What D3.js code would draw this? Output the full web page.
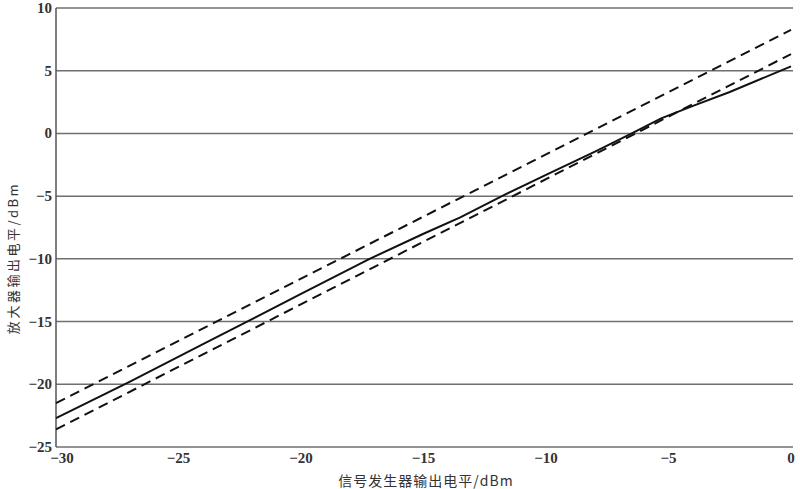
<!DOCTYPE html>
<html><head><meta charset="utf-8">
<script src="https://cdn.jsdelivr.net/npm/d3@7"></script>
<style>body{margin:0;background:#fff}</style>
</head><body><svg id="c" width="800" height="489"></svg>
<script>
const xTicks = [-30, -25, -20, -15, -10, -5, 0];
const yTicks = [-25, -20, -15, -10, -5, 0, 5, 10];
const upperX = [-30, 0];
const upperY = [-21.5, 8.25];
const lowerX = [-30, 0];
const lowerY = [-23.6, 6.33];
const measX = [-30, -27, -24, -22.2, -20, -17.2, -15, -13.5, -11.8, -10, -8, -6.5, -5.3, -4, -2.5, 0];
const measY = [-22.7, -19.8, -16.8, -15, -12.8, -10, -8.0, -6.7, -5, -3.3, -1.45, 0, 1.2, 2.2, 3.3, 5.35];
const xTitle = "信号发生器输出电平/dBm";
const yTitle = "放大器输出电平/dBm";

const svg = d3.select("#c");
const x = d3.scaleLinear().domain([-30, 0]).range([56, 791]);
const y = d3.scaleLinear().domain([-25, 10]).range([447, 8]);
const fmt = d => d < 0 ? "\u2212" + Math.abs(d) : String(d);
const tickFont = "'Liberation Serif','DejaVu Serif',serif";

svg.append("g").selectAll("line").data(yTicks).join("line")
  .attr("x1", x(-30)).attr("x2", 793)
  .attr("y1", d => y(d)).attr("y2", d => y(d))
  .attr("stroke", "#6f6f6f").attr("stroke-width", 1.5);
svg.append("line").attr("x1", x(-30)).attr("x2", x(-30)).attr("y1", y(10)).attr("y2", y(-25))
  .attr("stroke", "#555").attr("stroke-width", 1.5);

svg.append("g").selectAll("text").data(yTicks).join("text")
  .attr("x", 52).attr("y", d => y(d) + 5)
  .attr("text-anchor", "end").attr("font-family", tickFont).attr("font-weight", "bold")
  .attr("font-size", 15).attr("fill", "#333").text(fmt);
svg.append("g").selectAll("text").data(xTicks).join("text")
  .attr("x", d => x(d) + (d === -30 ? 6 : 0)).attr("y", 463)
  .attr("text-anchor", "middle").attr("font-family", tickFont).attr("font-weight", "bold")
  .attr("font-size", 15).attr("fill", "#333").text(fmt);

const line = d3.line().x(d => x(d[0])).y(d => y(d[1]));
const pts = (a, b) => a.map((v, i) => [v, b[i]]);

svg.append("path").attr("d", line(pts(upperX, upperY))).attr("fill", "none")
  .attr("stroke", "#111").attr("stroke-width", 2).attr("stroke-dasharray", "10,6");
svg.append("path").attr("d", line(pts(lowerX, lowerY))).attr("fill", "none")
  .attr("stroke", "#111").attr("stroke-width", 2).attr("stroke-dasharray", "10,6");
svg.append("path").attr("d", line(pts(measX, measY))).attr("fill", "none")
  .attr("stroke", "#111").attr("stroke-width", 2);

svg.append("text").attr("x", 426).attr("y", 486).attr("text-anchor", "middle")
  .attr("font-family", "'Noto Sans CJK SC',sans-serif").attr("font-size", 14).attr("fill", "#333")
  .attr("letter-spacing", 1).text(xTitle);
svg.append("text").attr("transform", "translate(18,258) rotate(-90)").attr("text-anchor", "middle")
  .attr("font-family", "'Noto Sans CJK SC',sans-serif").attr("font-size", 13).attr("fill", "#333")
  .attr("letter-spacing", 2.5).text(yTitle);
</script></body></html>
